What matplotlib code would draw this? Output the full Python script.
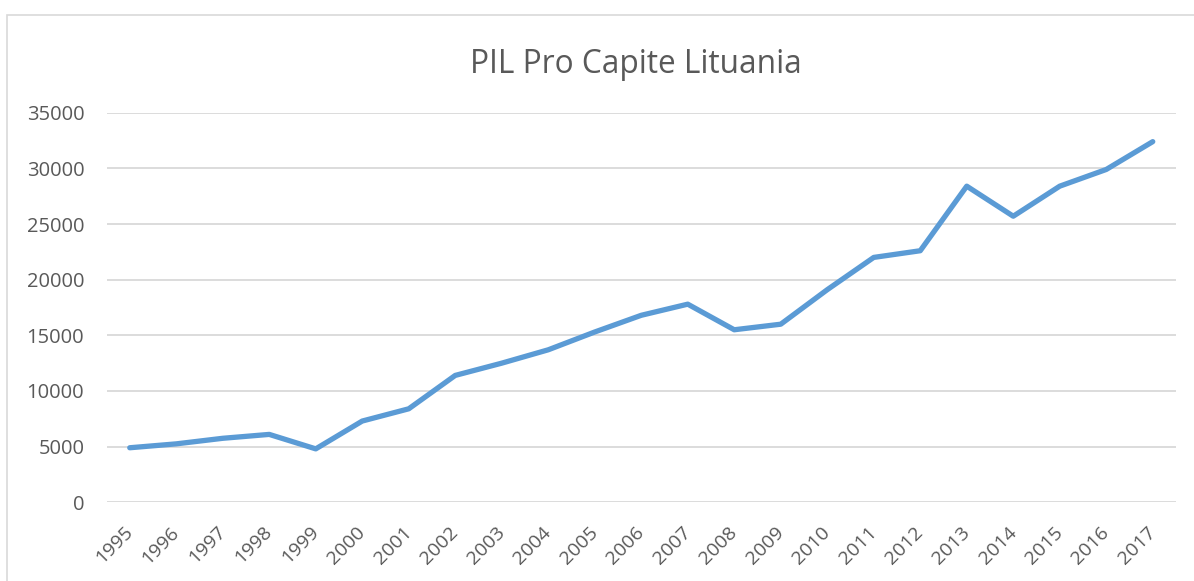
import matplotlib
matplotlib.use("Agg")
import matplotlib.pyplot as plt
from matplotlib.patches import Rectangle
from matplotlib.transforms import ScaledTranslation

years = [str(y) for y in range(1995, 2018)]
gdp_per_capita = [4900, 5250, 5750, 6100, 4800, 7300, 8400, 11400, 12500, 13700,
                  15300, 16800, 17800, 15500, 16000, 19100, 22000, 22600, 28400,
                  25700, 28400, 29900, 32400]
yticks = [0, 5000, 10000, 15000, 20000, 25000, 30000, 35000]
title = "PIL Pro Capite Lituania"

W, H = 1194, 581
plt.rcParams['font.family'] = ['Open Sans', 'DejaVu Sans']
text_color = '#595959'
grid_color = '#d9d9d9'
line_color = '#5b9bd5'

fig = plt.figure(figsize=(W / 100, H / 100), dpi=100)
fig.patch.set_facecolor('white')

# chart border (cropped on right and bottom)
fig.patches.append(Rectangle((6.5 / W, -0.1), 1.2, (H - 14.5) / H + 0.1,
                             transform=fig.transFigure, fill=False,
                             edgecolor=grid_color, linewidth=1.2))

ax = fig.add_axes([106.5 / W, 78.7 / H, (1176 - 106.5) / W, (468.3 - 78.7) / H])
x = list(range(len(years)))
ax.plot(x, gdp_per_capita, color=line_color, linewidth=3.8,
        solid_capstyle='round', solid_joinstyle='round', zorder=3)

ax.set_xlim(-0.5, len(years) - 0.5)
ax.set_ylim(yticks[0], yticks[-1])
ax.set_yticks(yticks)
ax.set_yticklabels([str(v) for v in yticks])
ax.set_xticks(x)
ax.set_xticklabels(years, rotation=45, ha='right', va='top', rotation_mode='anchor')

ax.grid(axis='y', color=grid_color, linewidth=1.3)
ax.set_axisbelow(True)
for s in ax.spines.values():
    s.set_visible(False)
ax.tick_params(axis='both', length=0, colors=text_color, labelsize=14.5)
ax.tick_params(axis='x', labelsize=14)
ax.tick_params(axis='y', pad=16)
ax.tick_params(axis='x', pad=15)

offset = ScaledTranslation(-6 / 100, 0, fig.dpi_scale_trans)
for lbl in ax.get_xticklabels():
    lbl.set_transform(lbl.get_transform() + offset)

fig.text(636 / W, (H - 73) / H, title, ha='center', va='baseline',
         fontsize=22.8, color=text_color)

fig.savefig('out.png', dpi=100, facecolor='white')
